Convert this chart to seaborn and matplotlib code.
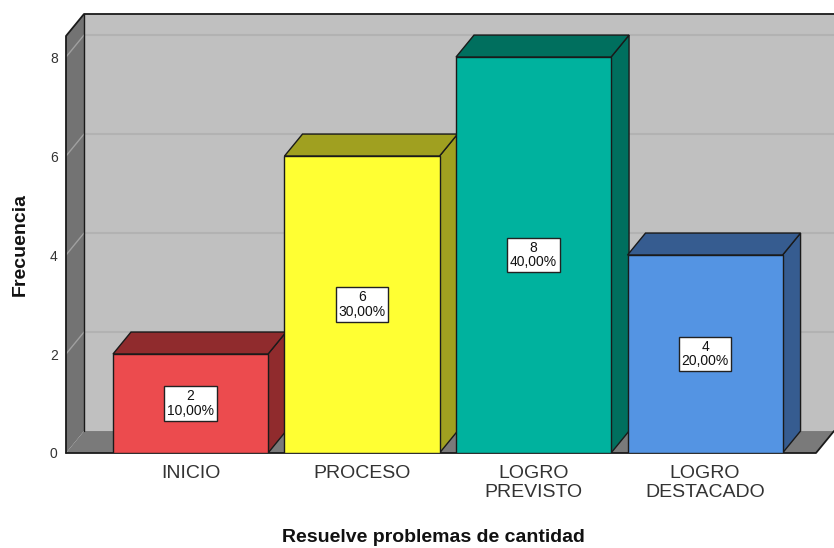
"""
Frecuencia de niveles de logro - grafico de barras estilo SPSS 3D
"""
import matplotlib
matplotlib.use("Agg")
import matplotlib.pyplot as plt
from matplotlib.patches import Polygon
import seaborn as sns
import pandas as pd

categories = ["INICIO", "PROCESO", "LOGRO\nPREVISTO", "LOGRO\nDESTACADO"]
frequencies = [2, 6, 8, 4]
percents = [10.0, 30.0, 40.0, 20.0]
yticks = [0, 2, 4, 6, 8]

front_colors = ["#EC4B4E", "#FFFF33", "#00B29E", "#5494E3"]
side_colors = ["#902B2D", "#A0A020", "#006F5E", "#365C90"]

df = pd.DataFrame({"nivel": categories, "freq": frequencies})

sns.set_style("white")
plt.rcParams["font.family"] = ["Liberation Sans", "DejaVu Sans"]

W, H = 834, 548
fig = plt.figure(figsize=(W / 100, H / 100), dpi=100)
# axes frame in pixels: left 66, right 834, bottom 453, top 14
ax = fig.add_axes([66 / W, (H - 453) / H, (834 - 66) / W, (453 - 14) / H])

x0, x1 = -0.726, 3.752
ytop = 8.87
dx, dy = 0.105, 0.444   # depth offset in data units
edge = "#1a1a1a"

# back wall
ax.add_patch(Polygon([(x0 + dx, dy), (x1 + 0.2, dy), (x1 + 0.2, ytop), (x0 + dx, ytop)],
                     closed=True, fc="#C0C0C0", ec="none", zorder=0))
# gridlines on back wall + diagonals on left wall
for t in yticks[1:]:
    ax.plot([x0 + dx, x1 + 0.2], [t + dy, t + dy], color="#B2B2B2", lw=1.5, zorder=1)
# left wall
ax.add_patch(Polygon([(x0, 0), (x0 + dx, dy), (x0 + dx, ytop), (x0, ytop - dy)],
                     closed=True, fc="#737373", ec="none", zorder=1))
for t in yticks[1:]:
    ax.plot([x0, x0 + dx], [t, t + dy], color="#A0A0A0", lw=1, zorder=1.5)
# floor
floor_right = x1 - dx
ax.add_patch(Polygon([(x0, 0), (x0 + dx, dy), (x1, dy), (floor_right, 0)],
                     closed=True, fc="#7A7A7A", ec="none", zorder=1))
# outline of the box
ax.plot([x0, x0, x0 + dx, x1 + 0.2], [0, ytop - dy, ytop, ytop], color=edge, lw=1.3, zorder=2,
        clip_on=False)
ax.plot([x0 + dx, x0 + dx], [dy, ytop], color=edge, lw=1, zorder=1.6)
ax.plot([x0, floor_right, x1], [0, 0, dy], color=edge, lw=1.3, zorder=2, clip_on=False)

# front faces via seaborn
sns.barplot(data=df, x="nivel", y="freq", hue="nivel", palette=front_colors, legend=False,
            width=0.904, edgecolor=edge, linewidth=1, saturation=1, ax=ax, zorder=4)

bars = [q for q in ax.patches if q.get_zorder() == 4]
for i, p in enumerate(bars):
    bx, bw, bh = p.get_x(), p.get_width(), p.get_height()
    sc = side_colors[i]
    # side face
    ax.add_patch(Polygon([(bx + bw, 0), (bx + bw + dx, dy), (bx + bw + dx, bh + dy), (bx + bw, bh)],
                         closed=True, fc=sc, ec=edge, lw=1, zorder=3))
    # top face
    ax.add_patch(Polygon([(bx, bh), (bx + dx, bh + dy), (bx + bw + dx, bh + dy), (bx + bw, bh)],
                         closed=True, fc=sc, ec=edge, lw=1, zorder=3))
    # label
    ax.text(bx + bw / 2, bh / 2, f"{frequencies[i]}\n{percents[i]:.2f}%".replace(".", ","),
            ha="center", va="center", fontsize=10, linespacing=1.05, color="#111", zorder=6,
            bbox=dict(boxstyle="square,pad=0.2", fc="white", ec="#222", lw=1))

ax.set_xlim(x0, x1)
ax.set_ylim(0, ytop)
ax.set_yticks(yticks)
ax.set_yticklabels([str(t) for t in yticks], fontsize=10, color="#333")
ax.tick_params(axis="y", length=0, pad=6)
ax.tick_params(axis="x", length=0, pad=8.5, labelsize=14, labelcolor="#333")
for lbl in ax.get_xticklabels():
    lbl.set_linespacing(1.2)
for s in ax.spines.values():
    s.set_visible(False)
ax.set_facecolor("white")
ax.set_xlabel("")
ax.set_ylabel("")

fig.text(433 / W, 1 - 537 / H, "Resuelve problemas de cantidad", ha="center", va="center",
         fontsize=14, fontweight="bold", color="#111")
fig.text(20 / W, 1 - 245 / H, "Frecuencia", ha="center", va="center", rotation=90,
         fontsize=14, fontweight="bold", color="#111")

fig.savefig("out.png", dpi=100)
